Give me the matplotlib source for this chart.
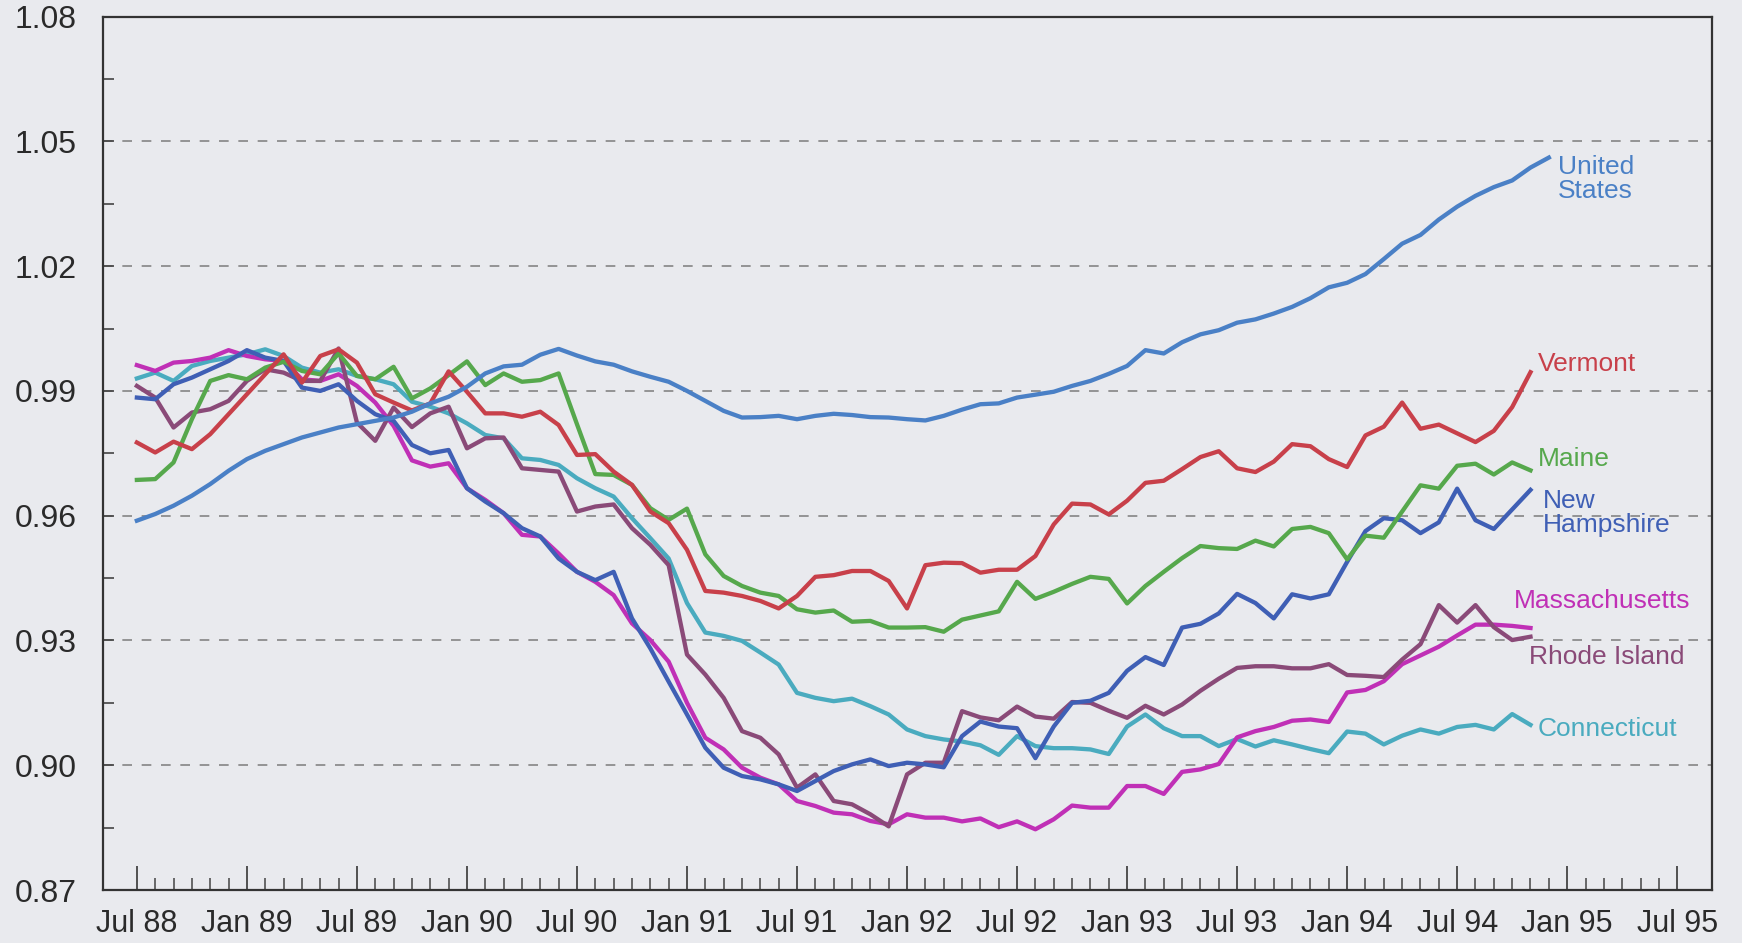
import matplotlib.pyplot as plt
from matplotlib.ticker import MultipleLocator, FixedLocator

plt.rcParams['font.family'] = ['Liberation Sans', 'DejaVu Sans']

# month index 0 = Jul 88
tick_labels = ['Jul 88', 'Jan 89', 'Jul 89', 'Jan 90', 'Jul 90', 'Jan 91', 'Jul 91', 'Jan 92',
               'Jul 92', 'Jan 93', 'Jul 93', 'Jan 94', 'Jul 94', 'Jan 95', 'Jul 95']

united_states = [
    0.9588, 0.9604, 0.9624, 0.9648, 0.9676, 0.9708, 0.9736, 0.9756, 0.9772, 0.9788,
    0.9800, 0.9812, 0.9820, 0.9828, 0.9836, 0.9850, 0.9870, 0.9886, 0.9910, 0.9942,
    0.9959, 0.9963, 0.9987, 1.0001, 0.9985, 0.9971, 0.9963, 0.9947, 0.9934, 0.9922,
    0.9900, 0.9876, 0.9852, 0.9836, 0.9837, 0.9840, 0.9832, 0.9840, 0.9845, 0.9842,
    0.9837, 0.9836, 0.9832, 0.9829, 0.9840, 0.9855, 0.9868, 0.9870, 0.9884, 0.9891,
    0.9898, 0.9912, 0.9924, 0.9941, 0.9960, 0.9998, 0.9990, 1.0017, 1.0036, 1.0046,
    1.0064, 1.0072, 1.0086, 1.0102, 1.0123, 1.0149, 1.0160, 1.0181, 1.0217, 1.0254,
    1.0275, 1.0312, 1.0343, 1.0369, 1.0390, 1.0406, 1.0437, 1.0461]

vermont = [
    0.9776, 0.9752, 0.9778, 0.9760, 0.9796, 0.9844, 0.9892, 0.9940, 0.9988, 0.9920,
    0.9984, 1.0000, 0.9968, 0.9892, 0.9872, 0.9853, 0.9870, 0.9947, 0.9898, 0.9846,
    0.9846, 0.9838, 0.9850, 0.9818, 0.9746, 0.9748, 0.9706, 0.9674, 0.9610, 0.9582,
    0.9518, 0.9419, 0.9415, 0.9407, 0.9395, 0.9377, 0.9407, 0.9453, 0.9457, 0.9467,
    0.9467, 0.9443, 0.9377, 0.9481, 0.9487, 0.9486, 0.9463, 0.9470, 0.9470, 0.9503,
    0.9579, 0.9629, 0.9627, 0.9603, 0.9636, 0.9679, 0.9684, 0.9712, 0.9741, 0.9755,
    0.9714, 0.9705, 0.9730, 0.9772, 0.9767, 0.9736, 0.9717, 0.9793, 0.9814, 0.9872,
    0.9809, 0.9819, 0.9798, 0.9777, 0.9804, 0.9861, 0.9945]

maine = [
    0.9686, 0.9688, 0.9728, 0.9832, 0.9924, 0.9938, 0.9928, 0.9956, 0.9970, 0.9948,
    0.9940, 0.9990, 0.9936, 0.9928, 0.9958, 0.9882, 0.9906, 0.9938, 0.9971, 0.9914,
    0.9942, 0.9922, 0.9926, 0.9942, 0.9820, 0.9700, 0.9698, 0.9674, 0.9618, 0.9590,
    0.9617, 0.9507, 0.9455, 0.9431, 0.9415, 0.9407, 0.9375, 0.9367, 0.9372, 0.9345,
    0.9347, 0.9331, 0.9331, 0.9332, 0.9321, 0.9350, 0.9360, 0.9370, 0.9441, 0.9400,
    0.9417, 0.9436, 0.9453, 0.9448, 0.9389, 0.9431, 0.9465, 0.9498, 0.9527, 0.9522,
    0.9520, 0.9540, 0.9526, 0.9568, 0.9573, 0.9558, 0.9495, 0.9552, 0.9547, 0.9610,
    0.9673, 0.9665, 0.9720, 0.9725, 0.9699, 0.9728, 0.9709]

new_hampshire = [
    0.9884, 0.9880, 0.9916, 0.9932, 0.9952, 0.9972, 0.9998, 0.9980, 0.9972, 0.9908,
    0.9900, 0.9916, 0.9876, 0.9844, 0.9828, 0.9770, 0.9750, 0.9758, 0.9666, 0.9634,
    0.9606, 0.9570, 0.9550, 0.9497, 0.9465, 0.9445, 0.9465, 0.9353, 0.9281, 0.9201,
    0.9122, 0.9042, 0.8994, 0.8974, 0.8966, 0.8954, 0.8938, 0.8962, 0.8986, 0.9002,
    0.9014, 0.8998, 0.9006, 0.9002, 0.8995, 0.9070, 0.9105, 0.9093, 0.9089, 0.9017,
    0.9093, 0.9150, 0.9155, 0.9174, 0.9227, 0.9260, 0.9241, 0.9331, 0.9340, 0.9365,
    0.9412, 0.9390, 0.9353, 0.9411, 0.9401, 0.9411, 0.9489, 0.9563, 0.9594, 0.9589,
    0.9558, 0.9584, 0.9665, 0.9589, 0.9568, 0.9615, 0.9662]

rhode_island = [
    0.9912, 0.9884, 0.9812, 0.9848, 0.9856, 0.9876, 0.9924, 0.9952, 0.9944, 0.9924,
    0.9924, 1.0002, 0.9824, 0.9780, 0.9860, 0.9813, 0.9846, 0.9862, 0.9762, 0.9786,
    0.9788, 0.9714, 0.9710, 0.9706, 0.9610, 0.9622, 0.9627, 0.9570, 0.9530, 0.9481,
    0.9266, 0.9218, 0.9162, 0.9082, 0.9066, 0.9026, 0.8946, 0.8978, 0.8914, 0.8906,
    0.8882, 0.8853, 0.8978, 0.9006, 0.9006, 0.9130, 0.9115, 0.9108, 0.9141, 0.9117,
    0.9112, 0.9152, 0.9150, 0.9131, 0.9114, 0.9143, 0.9122, 0.9146, 0.9179, 0.9208,
    0.9234, 0.9238, 0.9238, 0.9233, 0.9233, 0.9243, 0.9217, 0.9215, 0.9212, 0.9254,
    0.9291, 0.9385, 0.9343, 0.9385, 0.9332, 0.9301, 0.9309]

massachusetts = [
    0.9962, 0.9948, 0.9968, 0.9972, 0.9980, 0.9998, 0.9984, 0.9976, 0.9972, 0.9928,
    0.9924, 0.9940, 0.9912, 0.9872, 0.9816, 0.9733, 0.9718, 0.9726, 0.9666, 0.9638,
    0.9606, 0.9554, 0.9550, 0.9509, 0.9465, 0.9441, 0.9409, 0.9341, 0.9301, 0.9249,
    0.9150, 0.9066, 0.9038, 0.8994, 0.8970, 0.8954, 0.8914, 0.8902, 0.8886, 0.8882,
    0.8866, 0.8858, 0.8882, 0.8874, 0.8874, 0.8865, 0.8872, 0.8851, 0.8865, 0.8846,
    0.8870, 0.8903, 0.8898, 0.8898, 0.8950, 0.8950, 0.8931, 0.8984, 0.8990, 0.9003,
    0.9067, 0.9082, 0.9092, 0.9107, 0.9110, 0.9104, 0.9175, 0.9181, 0.9202, 0.9243,
    0.9264, 0.9285, 0.9312, 0.9338, 0.9338, 0.9335, 0.9330]

connecticut = [
    0.9930, 0.9944, 0.9924, 0.9960, 0.9972, 0.9980, 0.9988, 1.0000, 0.9984, 0.9956,
    0.9944, 0.9952, 0.9936, 0.9928, 0.9916, 0.9874, 0.9862, 0.9846, 0.9822, 0.9794,
    0.9786, 0.9738, 0.9734, 0.9722, 0.9690, 0.9666, 0.9646, 0.9594, 0.9546, 0.9497,
    0.9390, 0.9319, 0.9311, 0.9299, 0.9271, 0.9242, 0.9174, 0.9162, 0.9154, 0.9160,
    0.9142, 0.9122, 0.9086, 0.9070, 0.9062, 0.9057, 0.9048, 0.9025, 0.9070, 0.9046,
    0.9041, 0.9041, 0.9038, 0.9027, 0.9093, 0.9122, 0.9089, 0.9070, 0.9070, 0.9046,
    0.9063, 0.9045, 0.9060, 0.9050, 0.9039, 0.9029, 0.9081, 0.9076, 0.9050, 0.9071,
    0.9086, 0.9076, 0.9092, 0.9097, 0.9086, 0.9123, 0.9097]

bg = '#e9eaee'
fig = plt.figure(figsize=(17.42, 9.43), dpi=100, facecolor=bg)
ax = fig.add_axes([0.0591, 0.0562, 0.9237, 0.9262], facecolor=bg)

for y in [0.90, 0.93, 0.96, 0.99, 1.02, 1.05]:
    ax.axhline(y, color='#858585', lw=1.2, ls=(0, (5.8, 5.8)), zorder=1)

series = [
    (connecticut, '#4aabbf', 'Connecticut', 76.4, 0.9087),
    (massachusetts, '#c030b6', 'Massachusetts', 75.1, 0.9395),
    (rhode_island, '#8a4a78', 'Rhode Island', 75.9, 0.9260),
    (new_hampshire, '#3f5fb5', 'New\nHampshire', 76.65, 0.9607),
    (maine, '#56a84c', 'Maine', 76.4, 0.9737),
    (vermont, '#c8404a', 'Vermont', 76.4, 0.9965),
    (united_states, '#4a80c6', 'United\nStates', 77.5, 1.0410),
]
for vals, col, name, lx, ly in series:
    ax.plot(range(len(vals)), vals, color=col, lw=3.1, zorder=3)
    ax.text(lx, ly, name, color=col, fontsize=19, ha='left', va='center',
            linespacing=1.0, zorder=4)

ax.set_xlim(-1.85, 85.9)
ax.set_ylim(0.87, 1.08)

ax.xaxis.set_major_locator(FixedLocator(range(0, 85, 6)))
ax.xaxis.set_minor_locator(FixedLocator(range(0, 85)))
ax.set_xticklabels(tick_labels)
ax.yaxis.set_minor_locator(MultipleLocator(0.015))
ax.set_yticks([0.87, 0.90, 0.93, 0.96, 0.99, 1.02, 1.05, 1.08])
ax.set_yticklabels(['0.87', '0.90', '0.93', '0.96', '0.99', '1.02', '1.05', '1.08'])

ax.tick_params(axis='x', which='major', direction='in', length=17, width=1.3,
               color='#444444', labelsize=22, pad=14, labelcolor='#2a2a2a')
ax.tick_params(axis='x', which='minor', direction='in', length=8.5, width=1.1, color='#444444')
ax.tick_params(axis='y', which='both', direction='in', length=8, width=1.2,
               color='#444444', labelsize=23, pad=19, labelcolor='#2a2a2a')
ax.tick_params(top=False, right=False)

for s in ax.spines.values():
    s.set_color('#333333')
    s.set_linewidth(1.6)

fig.savefig('out.png', dpi=100, facecolor=bg)
